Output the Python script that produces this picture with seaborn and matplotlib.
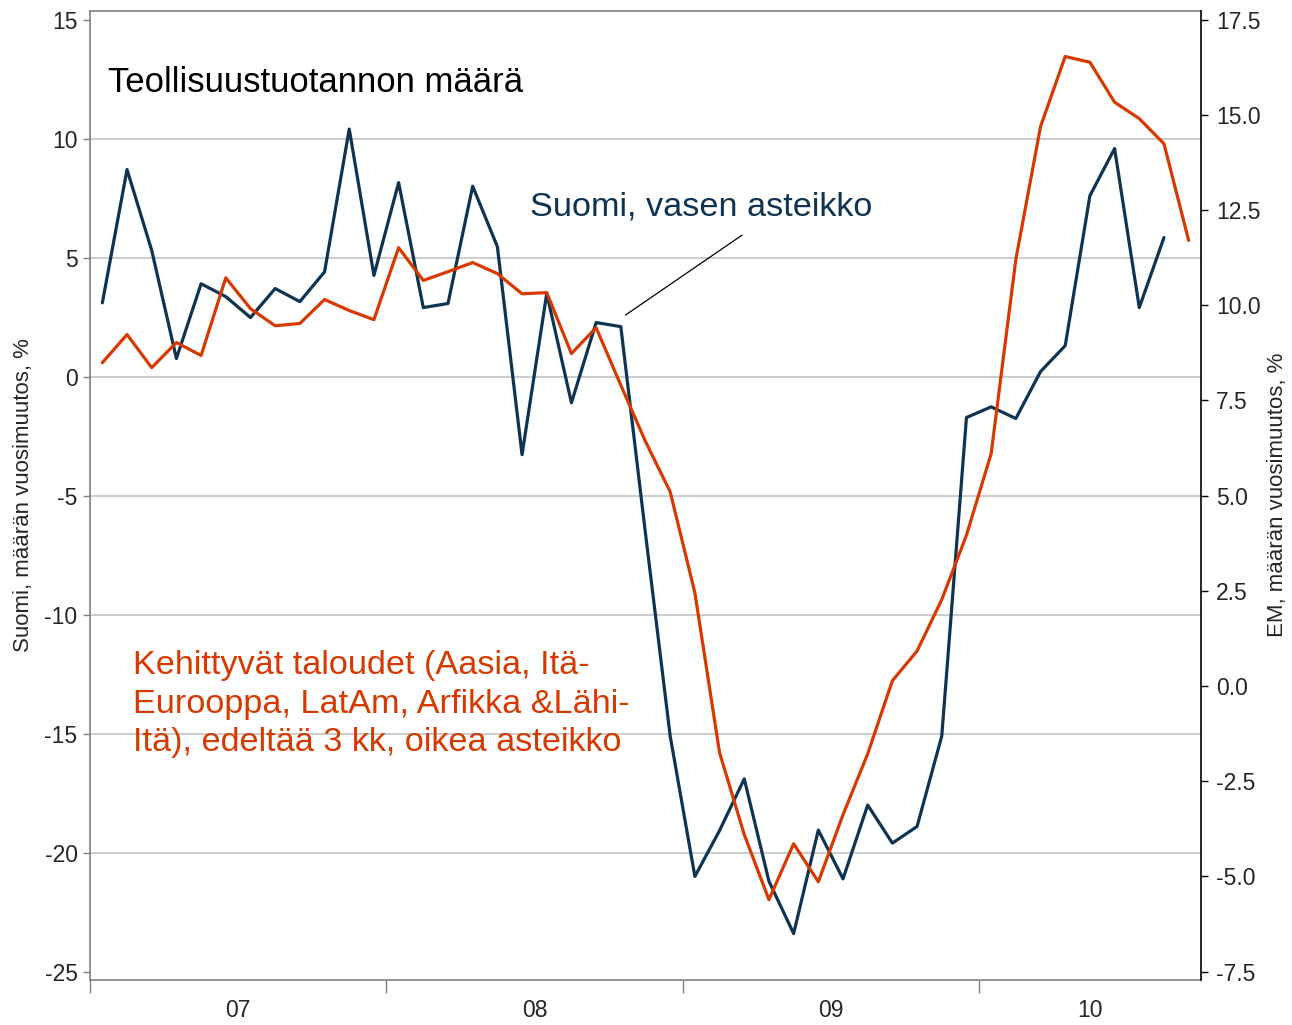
import matplotlib
matplotlib.use("Agg")
import matplotlib.pyplot as plt
import seaborn as sns
import numpy as np
import pandas as pd

# Monthly data, Jan 2007 onwards
suomi = [3.1, 8.7, 5.3, 0.76, 3.9, 3.36, 2.48, 3.7, 3.15, 4.4, 10.4, 4.25,
         8.15, 2.9, 3.07, 8.0, 5.46, -3.28, 3.49, -1.1, 2.27, 2.1, -6.6, -15.1,
         -21.0, -19.07, -16.9, -21.2, -23.4, -19.05, -21.1, -18.0, -19.6, -18.9, -15.1, -1.72,
         -1.27, -1.76, 0.21, 1.3, 7.6, 9.58, 2.9, 5.84]
em = [8.49, 9.23, 8.36, 9.02, 8.68, 10.72, 9.91, 9.46, 9.52, 10.15, 9.86, 9.62,
      11.51, 10.65, 10.88, 11.12, 10.83, 10.3, 10.33, 8.73, 9.41, 7.9, 6.42, 5.1,
      2.45, -1.75, -3.9, -5.61, -4.14, -5.14, -3.38, -1.78, 0.14, 0.92, 2.27, 3.96,
      6.1, 11.2, 14.69, 16.53, 16.38, 15.33, 14.9, 14.24, 11.7]
year_labels = ["07", "08", "09", "10"]
left_ticks = [15, 10, 5, 0, -5, -10, -15, -20, -25]
right_ticks = [17.5, 15.0, 12.5, 10.0, 7.5, 5.0, 2.5, 0.0, -2.5, -5.0, -7.5]

title_text = "Teollisuustuotannon määrä"
suomi_text = "Suomi, vasen asteikko"
em_text = "Kehittyvät taloudet (Aasia, Itä-\nEurooppa, LatAm, Arfikka &Lähi-\nItä), edeltää 3 kk, oikea asteikko"
left_label = "Suomi, määrän vuosimuutos, %"
right_label = "EM, määrän vuosimuutos, %"

sns.set_theme(style="white")
plt.rcParams['font.family'] = ['Liberation Sans', 'DejaVu Sans']

BLUE = "#0E3452"
RED = "#D63A00"
GRID = "#C8C8C8"
SPINE = "#808080"

df_s = pd.DataFrame({"m": np.arange(len(suomi)) + 0.5, "v": suomi})
df_e = pd.DataFrame({"m": np.arange(len(em)) + 0.5, "v": em})

fig = plt.figure(figsize=(12.92, 10.25), dpi=100)
ax = fig.add_axes([90/1292, 1-980/1025, (1201-90)/1292, (980-11)/1025])
ax2 = ax.twinx()

sns.lineplot(data=df_s, x="m", y="v", ax=ax, color=BLUE, lw=2.3, zorder=4)
sns.lineplot(data=df_e, x="m", y="v", ax=ax2, color=RED, lw=2.3, zorder=3)

ylo, yhi = -25.35, 15.36
ax.set_ylim(ylo, yhi)
ax2.set_ylim(8.125 + 0.625*ylo, 8.125 + 0.625*yhi)
ax.set_xlim(0, 45)

ax.set_yticks(left_ticks)
ax.set_yticklabels([str(t) for t in left_ticks])
ax2.set_yticks(right_ticks)
ax2.set_yticklabels([f"{t:.1f}" for t in right_ticks])

ax.set_xticks([0, 12, 24, 36])
ax.set_xticklabels([])
ax.set_xticks([6, 18, 30, 40.5], minor=True)
ax.set_xticklabels(year_labels, minor=True)
ax.tick_params(axis="x", which="major", direction="out", length=9, width=1, color=SPINE, bottom=True)
ax.tick_params(axis="x", which="minor", length=0, labelsize=16.5, pad=14)
ax.tick_params(axis="y", direction="out", length=5, width=1, color=SPINE, labelsize=16.5, left=True, pad=4)
ax2.tick_params(axis="y", direction="out", length=5, width=1, color="black", labelsize=16.5, right=True, pad=6)

ax.set_xlabel("")
ax.set_ylabel("")
ax2.set_ylabel("")
fig.text(24/1292, 1-495/1025, left_label, rotation=90, fontsize=16, ha="center", va="center")
fig.text(1277/1292, 1-495/1025, right_label, rotation=90, fontsize=16, ha="center", va="center")

# gridlines
ax.yaxis.grid(True, color=GRID, lw=1.3)
for val, gl in zip(left_ticks, ax.get_ygridlines()):
    if val in (15, -25):
        gl.set_visible(False)
ax.set_axisbelow(True)
ax2.grid(False)

for sp in ["left", "bottom", "top"]:
    ax.spines[sp].set_color(SPINE)
    ax.spines[sp].set_linewidth(1.2)
ax2.spines["right"].set_color("black")
ax2.spines["right"].set_linewidth(1.2)
for sp in ["left", "bottom", "top"]:
    ax2.spines[sp].set_visible(False)
ax.spines["right"].set_visible(False)

# texts
fig.text(108/1292, 1-83/1025, title_text, fontsize=25, color="black", ha="left", va="center")
fig.text(530/1292, 1-207/1025, suomi_text, fontsize=24.7, color=BLUE, ha="left", va="center")
fig.text(133/1292, 1-704/1025, em_text, fontsize=24.7, color=RED, ha="left", va="center", linespacing=1.3)

# annotation leader line (in data coords of left axis)
ax.annotate("", xy=(21.6, (377-317)/23.8), xytext=(26.5, (377-234)/23.8),
            arrowprops=dict(arrowstyle="-", color="black", lw=0.9))

fig.savefig("out.png", dpi=100)
